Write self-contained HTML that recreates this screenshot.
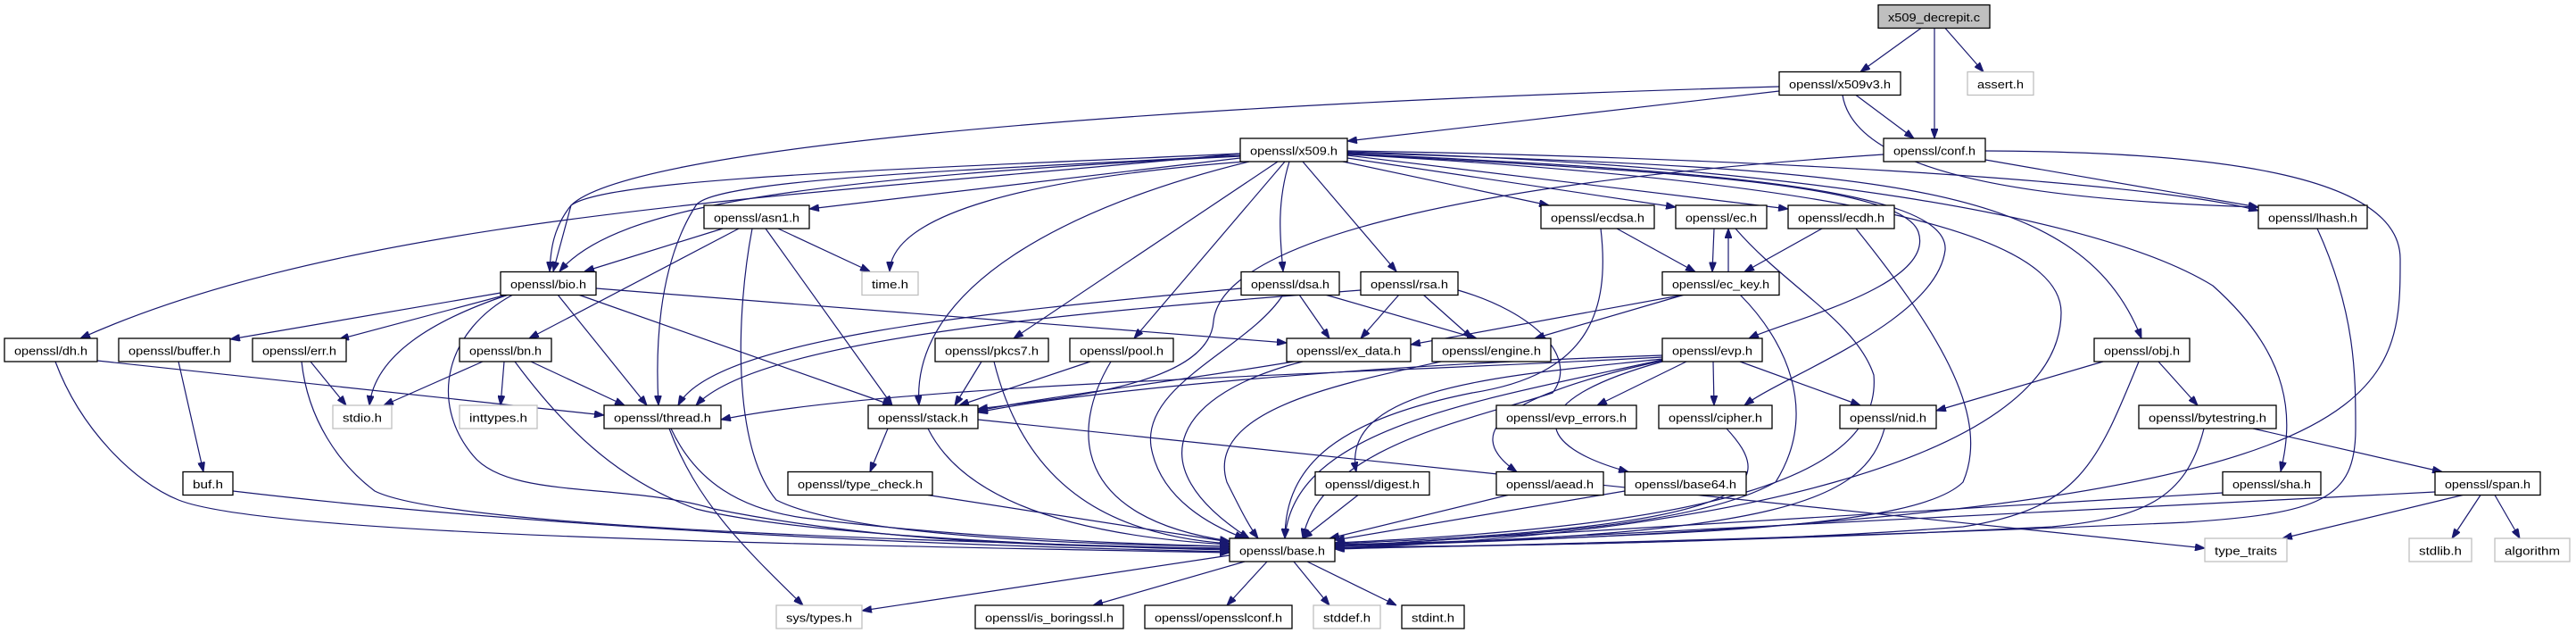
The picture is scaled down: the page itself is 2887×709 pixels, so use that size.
<!DOCTYPE html>
<html><head><meta charset="utf-8"><style>
html,body{margin:0;padding:0;background:#fff;}
svg{display:block}
text{font-family:"Liberation Sans",sans-serif;font-size:13px;fill:#000}
.e{fill:none;stroke:#191970;stroke-width:1.2;marker-end:url(#a)}
.n{fill:#fff;stroke:#000;stroke-width:1.3}
.g{fill:#fff;stroke:#bfbfbf;stroke-width:1.3}
</style></head><body>
<svg width="2887" height="709" viewBox="0 0 2887 709" xmlns="http://www.w3.org/2000/svg">
<defs><marker id="a" markerWidth="11" markerHeight="8" refX="11" refY="4" orient="auto" markerUnits="userSpaceOnUse"><path d="M0,0 L11,4 L0,8 z" fill="#191970" stroke="#191970"/></marker></defs>
<g>
<path class="e" d="M2153 31.5 L2085 80.5"/>
<path class="e" d="M2168 31.5 L2168 155"/>
<path class="e" d="M2180 31.5 L2223 80.5"/>
<path class="e" d="M1994 102 L1510 158"/>
<path class="e" d="M2080 106.5 L2145 155"/>
<path class="e" d="M1994 97 C1200 120, 700 170, 640 230 C620 255, 617 280, 616 304"/>
<path class="e" d="M2065 106.5 C2080 200, 2300 225, 2531 232"/>
<path class="e" d="M2225 179 L2531 232"/>
<path class="e" d="M2225 169 C2500 170, 2690 200, 2690 290 C2690 450, 2690 580, 1496 612"/>
<path class="e" d="M2111 173 C1700 200, 1370 260, 1360 360 C1355 430, 1200 445, 1096 458"/>
<path class="e" d="M1390 177 L907 234"/>
<path class="e" d="M1390 172 C1000 190, 680 200, 640 230 L620 304"/>
<path class="e" d="M1390 175 C900 200, 690 230, 627 304"/>
<path class="e" d="M1390 172 C900 220, 400 240, 90 379"/>
<path class="e" d="M1390 174 C1100 190, 800 200, 780 230 C735 300, 735 400, 738 454"/>
<path class="e" d="M1395 181 C1150 200, 1000 240, 997 304"/>
<path class="e" d="M1400 181 C1200 230, 1020 320, 1030 454"/>
<path class="e" d="M1432 181 L1136 379"/>
<path class="e" d="M1440 181 L1271 379"/>
<path class="e" d="M1445 181 C1430 230, 1435 270, 1438 304"/>
<path class="e" d="M1460 181 L1565 304"/>
<path class="e" d="M1505 181 L1736 230"/>
<path class="e" d="M1510 177 L1878 232"/>
<path class="e" d="M1510 174 L2004 234"/>
<path class="e" d="M1510 172 C1800 190, 2130 200, 2150 260 C2170 320, 2000 360, 1960 379"/>
<path class="e" d="M1510 172 C1900 190, 2185 210, 2180 280 C2170 360, 2000 420, 1955 454"/>
<path class="e" d="M1510 171 C2100 190, 2330 200, 2400 379"/>
<path class="e" d="M1510 170 C2000 185, 2350 240, 2480 320 C2570 400, 2570 470, 2556 528"/>
<path class="e" d="M1510 169 C1900 175, 2400 200, 2531 236"/>
<path class="e" d="M1510 173 C2000 200, 2310 250, 2310 350 C2310 520, 1900 600, 1496 614"/>
<path class="e" d="M810 256 L655 304"/>
<path class="e" d="M828 256 L593 379"/>
<path class="e" d="M872 256 L975 304"/>
<path class="e" d="M858 256 L1000 454"/>
<path class="e" d="M843 256 C825 350, 820 500, 870 560 C950 600, 1200 610, 1378 612"/>
<path class="e" d="M561 328 L258 380"/>
<path class="e" d="M568 330 L380 380"/>
<path class="e" d="M570 330 C480 360, 420 400, 414 454"/>
<path class="e" d="M625 330 L725 454"/>
<path class="e" d="M648 330 L1000 454"/>
<path class="e" d="M668 323 L1442 384"/>
<path class="e" d="M575 330 C500 370, 480 450, 530 510 C570 560, 700 540, 800 570 C1000 610, 1200 612, 1378 614"/>
<path class="e" d="M109 404 L677 465"/>
<path class="e" d="M62 405 C90 480, 150 540, 200 560 C300 600, 900 610, 1378 619"/>
<path class="e" d="M200 405 L228 528.5"/>
<path class="e" d="M261 550 C600 590, 1000 610, 1378 618"/>
<path class="e" d="M348 405 L388 454"/>
<path class="e" d="M338 405 C345 470, 380 520, 420 550 C500 590, 1000 605, 1378 615"/>
<path class="e" d="M541 405 L430 454"/>
<path class="e" d="M565 405 L561 454"/>
<path class="e" d="M595 405 L700 454"/>
<path class="e" d="M577 405 C640 490, 700 540, 780 570 C900 600, 1200 612, 1378 616"/>
<path class="e" d="M750 480 C780 560, 830 610, 900 678"/>
<path class="e" d="M752 480 C780 540, 830 570, 900 580 C1100 605, 1300 610, 1378 612"/>
<path class="e" d="M995 480 L975 528.5"/>
<path class="e" d="M1040 480 C1080 560, 1200 600, 1378 610"/>
<path class="e" d="M1096 470 L2471 614"/>
<path class="e" d="M1040 554.5 L1378 607"/>
<path class="e" d="M1100 405 L1070 454"/>
<path class="e" d="M1114 405 C1150 550, 1250 600, 1378 609"/>
<path class="e" d="M1222 405 L1075 454"/>
<path class="e" d="M1245 405 C1200 480, 1200 580, 1378 606"/>
<path class="e" d="M1456 330 L1490 379"/>
<path class="e" d="M1485 330 L1655 379"/>
<path class="e" d="M1391 323 C1100 350, 800 380, 760 454"/>
<path class="e" d="M1438 330 C1400 390, 1280 430, 1290 500 C1300 560, 1360 590, 1395 603"/>
<path class="e" d="M1568 330 L1525 379"/>
<path class="e" d="M1595 330 L1650 379"/>
<path class="e" d="M1525 325 C1200 350, 850 380, 780 454"/>
<path class="e" d="M1634 325 C1720 350, 1770 400, 1740 440 C1650 470, 1480 500, 1460 603"/>
<path class="e" d="M1450 405 C1300 430, 1200 440, 1096 460"/>
<path class="e" d="M1460 405 C1320 440, 1270 520, 1400 603"/>
<path class="e" d="M1615 405 C1500 430, 1350 460, 1375 540 C1390 570, 1400 590, 1410 603"/>
<path class="e" d="M1812 256 L1900 304.5"/>
<path class="e" d="M1794 256 C1805 350, 1780 420, 1650 440 C1500 470, 1440 520, 1440 603"/>
<path class="e" d="M1921 256 L1919 304.5"/>
<path class="e" d="M1937 304.5 L1937 256"/>
<path class="e" d="M1945 256 C2000 320, 2080 360, 2100 420 C2110 540, 1900 590, 1496 608"/>
<path class="e" d="M2042 256 L1955 304.5"/>
<path class="e" d="M2080 256 C2180 380, 2230 470, 2200 540 C2150 590, 1900 600, 1496 610"/>
<path class="e" d="M1888 330 L1581 386"/>
<path class="e" d="M1888 330 L1720 379"/>
<path class="e" d="M1950 330 C2000 380, 2040 460, 1990 540 C1900 590, 1700 600, 1496 612"/>
<path class="e" d="M1863 400 C1500 420, 1000 430, 808 470"/>
<path class="e" d="M1890 405 L1790 454"/>
<path class="e" d="M1920 405 L1921 454"/>
<path class="e" d="M1950 405 L2085 454"/>
<path class="e" d="M1863 402 C1700 420, 1500 430, 1520 528.5"/>
<path class="e" d="M1863 404 C1700 440, 1630 480, 1700 528.5"/>
<path class="e" d="M1863 405 C1700 450, 1720 500, 1825 528.5"/>
<path class="e" d="M1863 403 C1650 450, 1450 480, 1440 603"/>
<path class="e" d="M1863 398 C1500 410, 1200 440, 1096 462"/>
<path class="e" d="M1935 480 C1990 540, 1990 590, 1496 609"/>
<path class="e" d="M1522 554.5 L1460 603"/>
<path class="e" d="M1690 554.5 L1490 603"/>
<path class="e" d="M1821 550 L1496 605"/>
<path class="e" d="M2112 480 C2090 560, 2000 600, 1496 611"/>
<path class="e" d="M2357 405 L2170 460"/>
<path class="e" d="M2419 405 L2463 454"/>
<path class="e" d="M2397 405 C2350 520, 2330 570, 2200 590 C1950 610, 1600 612, 1496 613"/>
<path class="e" d="M2525 480 L2737 528.5"/>
<path class="e" d="M2470 480 C2450 560, 2400 580, 2300 590 C1900 610, 1600 612, 1496 614"/>
<path class="e" d="M2491 552 L1496 612"/>
<path class="e" d="M2597 256 C2640 350, 2640 420, 2640 480 C2640 560, 2600 575, 2450 585 C2000 605, 1600 612, 1496 615"/>
<path class="e" d="M2780 554.5 L2748 603"/>
<path class="e" d="M2796 554.5 L2824 603"/>
<path class="e" d="M2760 554.5 L2558 603"/>
<path class="e" d="M2729 551 L1496 614"/>
<path class="e" d="M1378 622 L966 684"/>
<path class="e" d="M1395 629 L1225 678"/>
<path class="e" d="M1420 629 L1375 678"/>
<path class="e" d="M1450 629 L1490 678"/>
<path class="e" d="M1465 629 L1565 678"/>
</g>
<g>
<rect x="2105" y="5.5" width="125" height="26" fill="#bfbfbf" stroke="#000" stroke-width="1.3"/><text x="2167.5" y="24" text-anchor="middle" textLength="103" lengthAdjust="spacingAndGlyphs">x509_decrepit.c</text>
<rect class="n" x="1994" y="80.5" width="136" height="26"/><text x="2062" y="99" text-anchor="middle" textLength="114" lengthAdjust="spacingAndGlyphs">openssl/x509v3.h</text>
<rect class="g" x="2205" y="80.5" width="74" height="26"/><text x="2242" y="99" text-anchor="middle" textLength="52" lengthAdjust="spacingAndGlyphs">assert.h</text>
<rect class="n" x="2111" y="155" width="114" height="26"/><text x="2168" y="173.5" text-anchor="middle" textLength="92" lengthAdjust="spacingAndGlyphs">openssl/conf.h</text>
<rect class="n" x="1390" y="155" width="120" height="26"/><text x="1450" y="173.5" text-anchor="middle" textLength="98" lengthAdjust="spacingAndGlyphs">openssl/x509.h</text>
<rect class="n" x="789" y="230" width="118" height="26"/><text x="848" y="248.5" text-anchor="middle" textLength="96" lengthAdjust="spacingAndGlyphs">openssl/asn1.h</text>
<rect class="n" x="1727" y="230" width="127" height="26"/><text x="1790.5" y="248.5" text-anchor="middle" textLength="105" lengthAdjust="spacingAndGlyphs">openssl/ecdsa.h</text>
<rect class="n" x="1878" y="230" width="102" height="26"/><text x="1929" y="248.5" text-anchor="middle" textLength="80" lengthAdjust="spacingAndGlyphs">openssl/ec.h</text>
<rect class="n" x="2004" y="230" width="119" height="26"/><text x="2063.5" y="248.5" text-anchor="middle" textLength="97" lengthAdjust="spacingAndGlyphs">openssl/ecdh.h</text>
<rect class="n" x="2531" y="230" width="122" height="26"/><text x="2592" y="248.5" text-anchor="middle" textLength="100" lengthAdjust="spacingAndGlyphs">openssl/lhash.h</text>
<rect class="n" x="561" y="304.5" width="107" height="26"/><text x="614.5" y="323" text-anchor="middle" textLength="85" lengthAdjust="spacingAndGlyphs">openssl/bio.h</text>
<rect class="g" x="966" y="304.5" width="63" height="26"/><text x="997.5" y="323" text-anchor="middle" textLength="41" lengthAdjust="spacingAndGlyphs">time.h</text>
<rect class="n" x="1391" y="304.5" width="110" height="26"/><text x="1446" y="323" text-anchor="middle" textLength="88" lengthAdjust="spacingAndGlyphs">openssl/dsa.h</text>
<rect class="n" x="1525" y="304.5" width="109" height="26"/><text x="1579.5" y="323" text-anchor="middle" textLength="87" lengthAdjust="spacingAndGlyphs">openssl/rsa.h</text>
<rect class="n" x="1863" y="304.5" width="131" height="26"/><text x="1928.5" y="323" text-anchor="middle" textLength="109" lengthAdjust="spacingAndGlyphs">openssl/ec_key.h</text>
<rect class="n" x="5" y="379" width="104" height="26"/><text x="57" y="397.5" text-anchor="middle" textLength="82" lengthAdjust="spacingAndGlyphs">openssl/dh.h</text>
<rect class="n" x="133" y="379" width="125" height="26"/><text x="195.5" y="397.5" text-anchor="middle" textLength="103" lengthAdjust="spacingAndGlyphs">openssl/buffer.h</text>
<rect class="n" x="283" y="379" width="105" height="26"/><text x="335.5" y="397.5" text-anchor="middle" textLength="83" lengthAdjust="spacingAndGlyphs">openssl/err.h</text>
<rect class="n" x="515" y="379" width="103" height="26"/><text x="566.5" y="397.5" text-anchor="middle" textLength="81" lengthAdjust="spacingAndGlyphs">openssl/bn.h</text>
<rect class="n" x="1048" y="379" width="127" height="26"/><text x="1111.5" y="397.5" text-anchor="middle" textLength="105" lengthAdjust="spacingAndGlyphs">openssl/pkcs7.h</text>
<rect class="n" x="1199" y="379" width="116" height="26"/><text x="1257" y="397.5" text-anchor="middle" textLength="94" lengthAdjust="spacingAndGlyphs">openssl/pool.h</text>
<rect class="n" x="1442" y="379" width="139" height="26"/><text x="1511.5" y="397.5" text-anchor="middle" textLength="117" lengthAdjust="spacingAndGlyphs">openssl/ex_data.h</text>
<rect class="n" x="1605" y="379" width="133" height="26"/><text x="1671.5" y="397.5" text-anchor="middle" textLength="111" lengthAdjust="spacingAndGlyphs">openssl/engine.h</text>
<rect class="n" x="1863" y="379" width="112" height="26"/><text x="1919" y="397.5" text-anchor="middle" textLength="90" lengthAdjust="spacingAndGlyphs">openssl/evp.h</text>
<rect class="n" x="2347" y="379" width="107" height="26"/><text x="2400.5" y="397.5" text-anchor="middle" textLength="85" lengthAdjust="spacingAndGlyphs">openssl/obj.h</text>
<rect class="g" x="373" y="454" width="66" height="26"/><text x="406" y="472.5" text-anchor="middle" textLength="44" lengthAdjust="spacingAndGlyphs">stdio.h</text>
<rect class="g" x="515" y="454" width="87" height="26"/><text x="558.5" y="472.5" text-anchor="middle" textLength="65" lengthAdjust="spacingAndGlyphs">inttypes.h</text>
<rect class="n" x="677" y="454" width="131" height="26"/><text x="742.5" y="472.5" text-anchor="middle" textLength="109" lengthAdjust="spacingAndGlyphs">openssl/thread.h</text>
<rect class="n" x="973" y="454" width="123" height="26"/><text x="1034.5" y="472.5" text-anchor="middle" textLength="101" lengthAdjust="spacingAndGlyphs">openssl/stack.h</text>
<rect class="n" x="1677" y="454" width="157" height="26"/><text x="1755.5" y="472.5" text-anchor="middle" textLength="135" lengthAdjust="spacingAndGlyphs">openssl/evp_errors.h</text>
<rect class="n" x="1859" y="454" width="127" height="26"/><text x="1922.5" y="472.5" text-anchor="middle" textLength="105" lengthAdjust="spacingAndGlyphs">openssl/cipher.h</text>
<rect class="n" x="2062" y="454" width="108" height="26"/><text x="2116" y="472.5" text-anchor="middle" textLength="86" lengthAdjust="spacingAndGlyphs">openssl/nid.h</text>
<rect class="n" x="2397" y="454" width="154" height="26"/><text x="2474" y="472.5" text-anchor="middle" textLength="132" lengthAdjust="spacingAndGlyphs">openssl/bytestring.h</text>
<rect class="n" x="205" y="528.5" width="56" height="26"/><text x="233" y="547" text-anchor="middle" textLength="34" lengthAdjust="spacingAndGlyphs">buf.h</text>
<rect class="n" x="883" y="528.5" width="162" height="26"/><text x="964" y="547" text-anchor="middle" textLength="140" lengthAdjust="spacingAndGlyphs">openssl/type_check.h</text>
<rect class="n" x="1474" y="528.5" width="128" height="26"/><text x="1538" y="547" text-anchor="middle" textLength="106" lengthAdjust="spacingAndGlyphs">openssl/digest.h</text>
<rect class="n" x="1677" y="528.5" width="120" height="26"/><text x="1737" y="547" text-anchor="middle" textLength="98" lengthAdjust="spacingAndGlyphs">openssl/aead.h</text>
<rect class="n" x="1821" y="528.5" width="136" height="26"/><text x="1889" y="547" text-anchor="middle" textLength="114" lengthAdjust="spacingAndGlyphs">openssl/base64.h</text>
<rect class="n" x="2491" y="528.5" width="110" height="26"/><text x="2546" y="547" text-anchor="middle" textLength="88" lengthAdjust="spacingAndGlyphs">openssl/sha.h</text>
<rect class="n" x="2729" y="528.5" width="118" height="26"/><text x="2788" y="547" text-anchor="middle" textLength="96" lengthAdjust="spacingAndGlyphs">openssl/span.h</text>
<rect class="n" x="1378" y="603" width="118" height="26"/><text x="1437" y="621.5" text-anchor="middle" textLength="96" lengthAdjust="spacingAndGlyphs">openssl/base.h</text>
<rect class="g" x="2471" y="603" width="92" height="26"/><text x="2517" y="621.5" text-anchor="middle" textLength="70" lengthAdjust="spacingAndGlyphs">type_traits</text>
<rect class="g" x="2700" y="603" width="70" height="26"/><text x="2735" y="621.5" text-anchor="middle" textLength="48" lengthAdjust="spacingAndGlyphs">stdlib.h</text>
<rect class="g" x="2796" y="603" width="84" height="26"/><text x="2838" y="621.5" text-anchor="middle" textLength="62" lengthAdjust="spacingAndGlyphs">algorithm</text>
<rect class="g" x="870" y="678" width="96" height="26"/><text x="918" y="696.5" text-anchor="middle" textLength="74" lengthAdjust="spacingAndGlyphs">sys/types.h</text>
<rect class="n" x="1093" y="678" width="166" height="26"/><text x="1176" y="696.5" text-anchor="middle" textLength="144" lengthAdjust="spacingAndGlyphs">openssl/is_boringssl.h</text>
<rect class="n" x="1283" y="678" width="165" height="26"/><text x="1365.5" y="696.5" text-anchor="middle" textLength="143" lengthAdjust="spacingAndGlyphs">openssl/opensslconf.h</text>
<rect class="g" x="1472" y="678" width="75" height="26"/><text x="1509.5" y="696.5" text-anchor="middle" textLength="53" lengthAdjust="spacingAndGlyphs">stddef.h</text>
<rect class="n" x="1571" y="678" width="70" height="26"/><text x="1606" y="696.5" text-anchor="middle" textLength="48" lengthAdjust="spacingAndGlyphs">stdint.h</text>
</g>
</svg>
</body></html>
